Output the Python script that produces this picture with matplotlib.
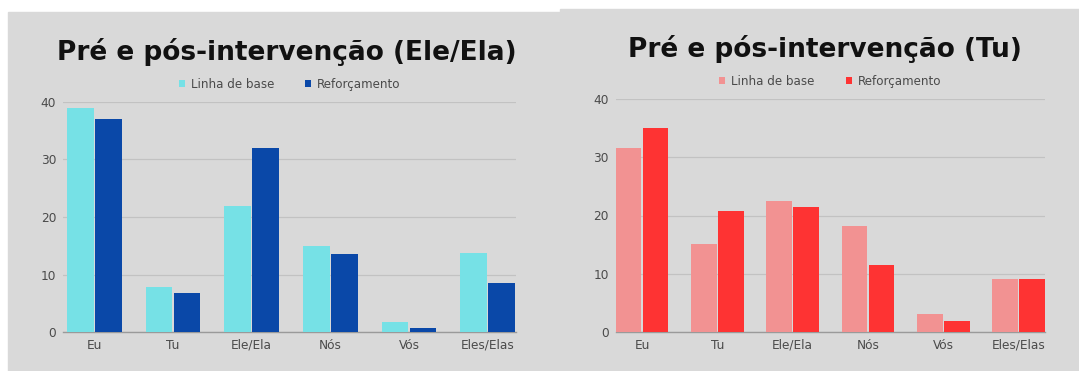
import numpy as np
import matplotlib.pyplot as plt
from matplotlib.patches import Rectangle

# pronoun categories
categories = ['Eu', 'Tu', 'Ele/Ela', 'Nós', 'Vós', 'Eles/Elas']
series_names = ['Linha de base', 'Reforçamento']

# left chart (Ele/Ela)
ele_base = [39.0, 7.8, 22.0, 15.0, 1.7, 13.7]
ele_reforco = [37.0, 6.7, 32.0, 13.5, 0.7, 8.6]

# right chart (Tu)
tu_base = [31.7, 15.1, 22.5, 18.2, 3.1, 9.0]
tu_reforco = [35.0, 20.8, 21.5, 11.4, 1.8, 9.0]

yticks = [0, 10, 20, 30, 40]

W, H = 1079, 371
fig = plt.figure(figsize=(W / 100, H / 100), dpi=100)
fig.patch.set_facecolor('white')

# gray card backgrounds (behind the axes)
fig.add_artist(Rectangle((8 / W, 0), 552 / W, 1 - 12 / H,
                         transform=fig.transFigure, color='#d9d9d9', zorder=-5))
fig.add_artist(Rectangle((560 / W, 0), 519 / W, 1 - 9 / H,
                         transform=fig.transFigure, color='#d9d9d9', zorder=-5))


def draw_panel(rect, base, reforco, colors, title, title_x, title_y, xlim):
    ax = fig.add_axes(rect)
    ax.set_zorder(2)
    ax.set_facecolor('none')
    x = np.arange(len(categories))
    w = 0.34
    ax.bar(x - 0.178, base, w, color=colors[0], label=series_names[0], zorder=3)
    ax.bar(x + 0.178, reforco, w, color=colors[1], label=series_names[1], zorder=3)
    ax.set_ylim(0, 40)
    ax.set_xlim(*xlim)
    ax.set_yticks(yticks)
    ax.set_xticks(x)
    ax.set_xticklabels(categories)
    ax.grid(axis='y', color='#c2c2c2', linewidth=0.9, zorder=1)
    for s in ['top', 'right', 'left']:
        ax.spines[s].set_visible(False)
    ax.spines['bottom'].set_color('#9a9a9a')
    ax.spines['bottom'].set_linewidth(1.0)
    ax.tick_params(length=0, labelsize=8.7, labelcolor='#4a4a4a')
    ax.tick_params(axis='y', pad=5)
    ax.tick_params(axis='x', pad=5)
    leg = ax.legend(loc='center', bbox_to_anchor=(0.5, 1.078), ncol=2,
                    frameon=False, fontsize=8.6, handlelength=0.5, handleheight=0.5,
                    handletextpad=0.5, columnspacing=2.6)
    for t in leg.get_texts():
        t.set_color('#4a4a4a')
    fig.text(title_x, title_y, title, ha='center', va='center',
             fontsize=19, fontweight='bold', color='#111111', zorder=3)
    return ax


draw_panel([63 / W, 1 - 332 / H, 453 / W, 230 / H], ele_base, ele_reforco,
           ['#76e1e6', '#0a48a8'], 'Pré e pós-intervenção (Ele/Ela)',
           286.5 / W, 1 - 52 / H, (-0.40, 5.36))
draw_panel([615.6 / W, 1 - 331.7 / H, 429.4 / W, 232.4 / H], tu_base, tu_reforco,
           ['#f29292', '#fe3333'], 'Pré e pós-intervenção (Tu)',
           825 / W, 1 - 49 / H, (-0.35, 5.35))

fig.savefig('out.png', dpi=100)
